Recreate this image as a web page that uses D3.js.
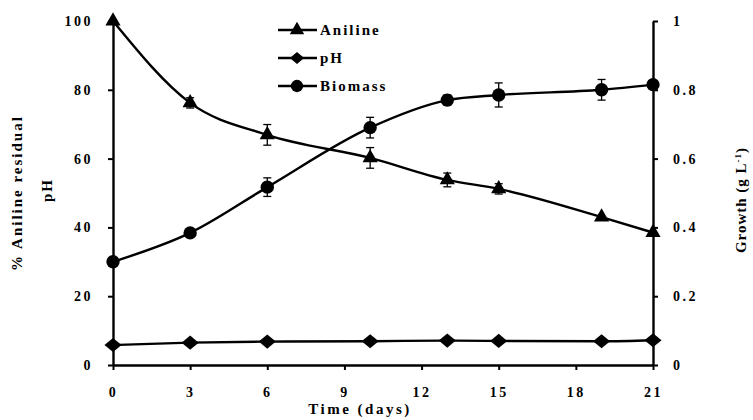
<!DOCTYPE html>
<html>
<head>
<meta charset="utf-8">
<script src="https://cdn.jsdelivr.net/npm/d3@7"></script>
<style>
body { margin: 0; background: white; }
text { font-family: "Liberation Serif", "Times New Roman", serif; font-weight: bold; }
</style>
</head>
<body>
<script>
var width = 753,
    height = 420;

// data
var days = [0, 3, 6, 10, 13, 15, 19, 21];
var aniline = [100, 76.2, 66.9, 60.2, 53.8, 51.2, 43, 38.5];
var anilineErr = [0, 1.5, 3, 3, 2, 1.5, 0, 0];
var ph = [5.8, 6.5, 6.8, 6.9, 7.1, 7.0, 6.9, 7.2];
var biomass = [0.30, 0.384, 0.517, 0.69, 0.77, 0.785, 0.80, 0.815];
var biomassErr = [0, 0, 0.027, 0.03, 0.015, 0.035, 0.03, 0];
var xTicks = [0, 3, 6, 9, 12, 15, 18, 21];
var leftTicks = [0, 20, 40, 60, 80, 100];
var rightTicks = [0, 0.2, 0.4, 0.6, 0.8, 1];

var x = d3.scaleLinear().domain([0, 21]).range([113, 653]);
var yL = d3.scaleLinear().domain([0, 100]).range([365, 21]);
var yR = d3.scaleLinear().domain([0, 1]).range([365, 21]);

var svg = d3.select("body").append("svg")
    .attr("width", width)
    .attr("height", height);

// diamond a bit wider than d3's default one
var wideDiamond = {
    draw: function(ctx, size) {
        var w = Math.sqrt(size) * 0.75, h = Math.sqrt(size) * 0.62;
        ctx.moveTo(0, -h); ctx.lineTo(w, 0); ctx.lineTo(0, h); ctx.lineTo(-w, 0); ctx.closePath();
    }
};

function styleAxis(g) {
    g.selectAll("path").attr("stroke", "black").attr("stroke-width", 2.4);
    g.selectAll("line").attr("stroke", "black").attr("stroke-width", 2);
    g.selectAll("text").attr("font-size", 14).attr("fill", "black")
        .attr("letter-spacing", 2.5)
        .style("font-family", "Liberation Serif, serif").style("font-weight", "bold");
}

svg.append("g")
    .attr("transform", "translate(0,365)")
    .call(d3.axisBottom(x).tickValues(xTicks).tickSize(5).tickSizeOuter(0).tickPadding(17))
    .call(styleAxis);

svg.append("g")
    .attr("transform", "translate(113,0)")
    .call(d3.axisLeft(yL).tickValues(leftTicks).tickSize(5).tickSizeOuter(0).tickPadding(15))
    .call(styleAxis);

svg.append("g")
    .attr("transform", "translate(653,0)")
    .call(d3.axisRight(yR).tickValues(rightTicks).tickSize(5).tickSizeOuter(0).tickPadding(15)
        .tickFormat(function(d) { return d; }))
    .call(styleAxis);

// axis titles
svg.append("text")
    .attr("transform", "translate(22,193) rotate(-90)")
    .attr("text-anchor", "middle")
    .attr("font-size", 15)
    .attr("letter-spacing", 2)
    .text("% Aniline residual");
svg.append("text")
    .attr("transform", "translate(52,190) rotate(-90)")
    .attr("text-anchor", "middle")
    .attr("font-size", 15)
    .attr("letter-spacing", 2)
    .text("pH");
var gl = svg.append("text")
    .attr("transform", "translate(746,200) rotate(-90)")
    .attr("text-anchor", "middle")
    .attr("font-size", 15)
    .attr("letter-spacing", 1);
gl.append("tspan").text("Growth (g L");
gl.append("tspan").attr("dy", -5).attr("font-size", 9).text("-1");
gl.append("tspan").attr("dy", 5).text(")");
svg.append("text")
    .attr("x", 360)
    .attr("y", 414)
    .attr("text-anchor", "middle")
    .attr("font-size", 15)
    .attr("letter-spacing", 2.5)
    .text("Time (days)");

var curve = d3.curveMonotoneX;

function drawSeries(vals, errs, yscale, shape, size) {
    var pts = days.map(function(d, i) { return { x: d, y: vals[i], e: errs ? errs[i] : 0 }; });
    svg.append("path")
        .datum(pts)
        .attr("fill", "none")
        .attr("stroke", "black")
        .attr("stroke-width", 2.4)
        .attr("d", d3.line().curve(curve)
            .x(function(d) { return x(d.x); })
            .y(function(d) { return yscale(d.y); }));
    var eb = svg.append("g").selectAll("g")
        .data(pts.filter(function(d) { return d.e > 0; }))
        .enter().append("g");
    eb.append("line")
        .attr("x1", function(d) { return x(d.x); })
        .attr("x2", function(d) { return x(d.x); })
        .attr("y1", function(d) { return yscale(d.y - d.e); })
        .attr("y2", function(d) { return yscale(d.y + d.e); })
        .attr("stroke", "black").attr("stroke-width", 1.3);
    [-1, 1].forEach(function(s) {
        eb.append("line")
            .attr("x1", function(d) { return x(d.x) - 4; })
            .attr("x2", function(d) { return x(d.x) + 4; })
            .attr("y1", function(d) { return yscale(d.y + s * d.e); })
            .attr("y2", function(d) { return yscale(d.y + s * d.e); })
            .attr("stroke", "black").attr("stroke-width", 1.3);
    });
    svg.append("g").selectAll("path")
        .data(pts)
        .enter().append("path")
        .attr("transform", function(d) { return "translate(" + x(d.x) + "," + yscale(d.y) + ")"; })
        .attr("d", d3.symbol().type(shape).size(size))
        .attr("fill", "black");
}

drawSeries(ph, null, yL, wideDiamond, 130);
drawSeries(biomass, biomassErr, yR, d3.symbolCircle, 140);
drawSeries(aniline, anilineErr, yL, d3.symbolTriangle, 100);

// legend
var legendItems = [
    { name: "Aniline", shape: d3.symbolTriangle, size: 90 },
    { name: "pH", shape: wideDiamond, size: 90 },
    { name: "Biomass", shape: d3.symbolCircle, size: 120 }
];
var legend = svg.append("g").selectAll("g")
    .data(legendItems)
    .enter().append("g")
    .attr("transform", function(d, i) { return "translate(0," + (30 + i * 28) + ")"; });
legend.append("line")
    .attr("x1", 278).attr("x2", 317)
    .attr("stroke", "black").attr("stroke-width", 2.4);
legend.append("path")
    .attr("transform", "translate(297,0)")
    .attr("d", function(d) { return d3.symbol().type(d.shape).size(d.size)(); })
    .attr("fill", "black");
legend.append("text")
    .attr("x", 320)
    .attr("y", 5)
    .attr("font-size", 15)
    .attr("letter-spacing", 2)
    .text(function(d) { return d.name; });
</script>
</body>
</html>
